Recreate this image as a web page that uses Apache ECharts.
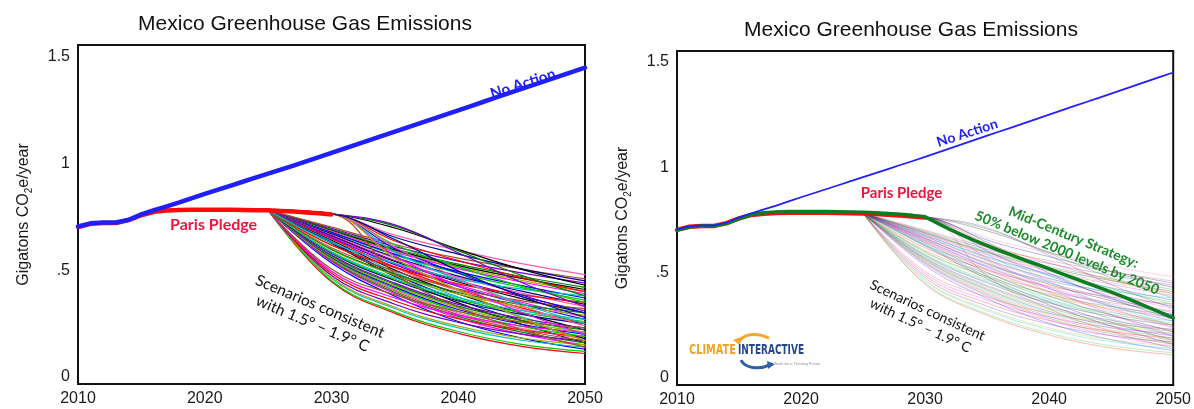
<!DOCTYPE html>
<html>
<head>
<meta charset="utf-8">
<script src="https://cdn.jsdelivr.net/npm/echarts@6/dist/echarts.min.js"></script>
<style>
  html, body { margin: 0; padding: 0; background: #ffffff; }
  #chart { width: 1194px; height: 409px; }
</style>
</head>
<body>
<div id="chart"></div>
<script>
// ---- Mexico GHG emissions, Gt CO2e per year ----
const years = [2010, 2011, 2012, 2013, 2014, 2015, 2016, 2017, 2018, 2019,
  2020, 2021, 2022, 2023, 2024, 2025, 2026, 2027, 2028, 2029,
  2030, 2031, 2032, 2033, 2034, 2035, 2036, 2037, 2038, 2039,
  2040, 2041, 2042, 2043, 2044, 2045, 2046, 2047, 2048, 2049, 2050];

// Business-as-usual path
const noAction = [0.705, 0.720, 0.724, 0.724, 0.737, 0.762, 0.782, 0.800, 0.818, 0.838,
  0.858, 0.877, 0.896, 0.915, 0.934, 0.953, 0.972, 0.991, 1.011, 1.030,
  1.050, 1.070, 1.090, 1.110, 1.130, 1.150, 1.170, 1.190, 1.210, 1.230,
  1.250, 1.270, 1.290, 1.310, 1.330, 1.350, 1.370, 1.390, 1.410, 1.430, 1.450];

// NDC pathway to 2030
const pledgeYears = [2010, 2011, 2012, 2013, 2014, 2015, 2016, 2017, 2018, 2019,
  2020, 2021, 2022, 2023, 2024, 2025, 2026, 2027, 2028, 2029, 2030];
const parisPledge = [0.703, 0.718, 0.722, 0.722, 0.735, 0.758, 0.774, 0.780, 0.783, 0.784,
  0.784, 0.784, 0.784, 0.783, 0.782, 0.781, 0.778, 0.775, 0.771, 0.767, 0.762];

// Mid-century strategy: 50% below 2000 levels by 2050
const midCentury = [0.702, 0.717, 0.721, 0.721, 0.733, 0.756, 0.775, 0.784, 0.788, 0.790,
  0.790, 0.790, 0.790, 0.789, 0.788, 0.787, 0.784, 0.781, 0.777, 0.772,
  0.765, 0.735, 0.705, 0.678, 0.652, 0.628, 0.605, 0.583, 0.561, 0.540,
  0.518, 0.496, 0.474, 0.452, 0.430, 0.408, 0.385, 0.360, 0.335, 0.310, 0.285];

// 1.5-1.9 C consistent scenarios, sampled every five years
const scenarioYears = [2025, 2030, 2035, 2040, 2045, 2050];
const scenarios = [
  [0.782, 0.446, 0.298, 0.204, 0.143, 0.11],
  [0.782, 0.451, 0.305, 0.213, 0.153, 0.12],
  [0.782, 0.534, 0.378, 0.260, 0.182, 0.13],
  [0.782, 0.461, 0.320, 0.230, 0.172, 0.14],
  [0.782, 0.542, 0.390, 0.276, 0.201, 0.15],
  [0.782, 0.466, 0.327, 0.238, 0.182, 0.15],
  [0.782, 0.627, 0.471, 0.347, 0.247, 0.16],
  [0.782, 0.546, 0.396, 0.284, 0.210, 0.16],
  [0.782, 0.476, 0.341, 0.256, 0.201, 0.17],
  [0.782, 0.549, 0.403, 0.292, 0.219, 0.17],
  [0.782, 0.553, 0.409, 0.300, 0.228, 0.18],
  [0.782, 0.632, 0.481, 0.361, 0.264, 0.18],
  [0.782, 0.486, 0.356, 0.273, 0.220, 0.19],
  [0.782, 0.557, 0.415, 0.308, 0.237, 0.19],
  [0.782, 0.561, 0.421, 0.316, 0.247, 0.20],
  [0.782, 0.637, 0.491, 0.375, 0.282, 0.20],
  [0.782, 0.496, 0.370, 0.290, 0.239, 0.21],
  [0.782, 0.565, 0.427, 0.324, 0.256, 0.21],
  [0.782, 0.642, 0.501, 0.389, 0.299, 0.22],
  [0.782, 0.568, 0.434, 0.332, 0.265, 0.22],
  [0.782, 0.572, 0.440, 0.340, 0.274, 0.23],
  [0.782, 0.506, 0.385, 0.307, 0.258, 0.23],
  [0.782, 0.647, 0.511, 0.403, 0.316, 0.24],
  [0.782, 0.580, 0.452, 0.356, 0.293, 0.25],
  [0.782, 0.649, 0.516, 0.410, 0.324, 0.25],
  [0.782, 0.584, 0.458, 0.364, 0.302, 0.26],
  [0.782, 0.654, 0.526, 0.424, 0.342, 0.27],
  [0.782, 0.587, 0.465, 0.372, 0.311, 0.27],
  [0.782, 0.657, 0.531, 0.431, 0.350, 0.28],
  [0.782, 0.595, 0.477, 0.388, 0.329, 0.29],
  [0.782, 0.662, 0.541, 0.445, 0.367, 0.30],
  [0.782, 0.599, 0.483, 0.396, 0.339, 0.30],
  [0.782, 0.664, 0.546, 0.452, 0.376, 0.31],
  [0.782, 0.606, 0.496, 0.412, 0.357, 0.32],
  [0.782, 0.669, 0.556, 0.466, 0.393, 0.33],
  [0.782, 0.672, 0.561, 0.473, 0.402, 0.34],
  [0.782, 0.618, 0.514, 0.436, 0.385, 0.35],
  [0.782, 0.677, 0.571, 0.487, 0.419, 0.36],
  [0.782, 0.679, 0.576, 0.494, 0.428, 0.37],
  [0.782, 0.629, 0.533, 0.460, 0.412, 0.38],
  [0.782, 0.684, 0.586, 0.508, 0.445, 0.39],
  [0.782, 0.687, 0.591, 0.515, 0.453, 0.40],
  [0.782, 0.689, 0.596, 0.522, 0.462, 0.41],
  [0.782, 0.692, 0.601, 0.529, 0.471, 0.42],
  [0.782, 0.697, 0.611, 0.543, 0.488, 0.44],
  [0.782, 0.702, 0.621, 0.557, 0.505, 0.46],
  [0.782, 0.765, 0.665, 0.594, 0.531, 0.48],
  [0.782, 0.765, 0.655, 0.576, 0.507, 0.45],
  [0.782, 0.765, 0.637, 0.546, 0.466, 0.40],
  [0.782, 0.765, 0.620, 0.516, 0.425, 0.35],
  [0.782, 0.765, 0.602, 0.486, 0.384, 0.30],
  [0.782, 0.765, 0.585, 0.456, 0.343, 0.25],
  [0.782, 0.765, 0.567, 0.426, 0.302, 0.20],
  [0.782, 0.765, 0.557, 0.408, 0.277, 0.17],
  [0.782, 0.765, 0.698, 0.598, 0.504, 0.43],
  [0.782, 0.765, 0.707, 0.592, 0.476, 0.38],
  [0.782, 0.765, 0.713, 0.582, 0.443, 0.33],
  [0.782, 0.765, 0.484, 0.328, 0.221, 0.14],
  [0.782, 0.765, 0.608, 0.461, 0.334, 0.24],
  [0.782, 0.765, 0.644, 0.498, 0.377, 0.28]
];

const xTickInterval = 10;
const yTickValues = [0, 0.5, 1, 1.5];
const yTickLabels = ['0', '.5', '1', '1.5'];

const titleText = 'Mexico Greenhouse Gas Emissions';
const yAxisTitle = '{a|Gigatons CO}{s|2}{a|e/year}';

// ---- styling ----
const scenarioPalette = ['#ff0000', '#00c800', '#0000ff', '#00c0c0', '#ff00ff', '#a8a800',
  '#000000', '#007f00', '#7000c0', '#a0522d', '#ff5fa8', '#000090'];
const BLUE = '#2020ff';
const RED = '#ff0a0a';
const GREEN = '#0b7d1f';
const SANS = '"Liberation Sans", Arial, sans-serif';
const LABEL_FONT = 'Lato, "Open Sans", sans-serif';
const LOGO_FONT = '"DejaVu Sans Condensed", "DejaVu Sans", sans-serif';

function pairs(xs, ys) { return xs.map((x, i) => [x, ys[i]]); }

function lineSeries(idx, xs, ys, color, width, extra) {
  return Object.assign({
    type: 'line', xAxisIndex: idx, yAxisIndex: idx,
    data: pairs(xs, ys), symbol: 'none', silent: true,
    lineStyle: { color: color, width: width, cap: 'round', join: 'round' }
  }, extra || {});
}

const series = [];
// left panel: coloured scenario bundle, pledge, no action
scenarios.forEach((s, i) => {
  series.push(lineSeries(0, scenarioYears, s, scenarioPalette[i % scenarioPalette.length], 1.2,
    { smooth: 0.4 }));
});
series.push(lineSeries(0, pledgeYears, parisPledge, RED, 4.5));
series.push(lineSeries(0, years, noAction, BLUE, 4.5));

// right panel: faded scenarios, pledge, mid-century strategy, no action
scenarios.forEach((s, i) => {
  const sr = lineSeries(1, scenarioYears, s, scenarioPalette[i % scenarioPalette.length], 1,
    { smooth: 0.4 });
  sr.lineStyle.opacity = 0.28;
  series.push(sr);
});
series.push(lineSeries(1, pledgeYears, parisPledge, RED, 4.5));
series.push(lineSeries(1, years, midCentury, GREEN, 3.5));
series.push(lineSeries(1, years, noAction, BLUE, 1.8));

function xAxis(idx) {
  return {
    type: 'value', gridIndex: idx, min: 2010, max: 2050, interval: xTickInterval,
    axisLine: { show: false }, axisTick: { show: false }, splitLine: { show: false },
    axisLabel: { color: '#1a1a1a', fontSize: 16, fontFamily: SANS, margin: 7,
      showMinLabel: true, showMaxLabel: true, formatter: v => String(v) }
  };
}
function yAxis(idx, max) {
  return {
    type: 'value', gridIndex: idx, min: -0.033, max: max,
    axisLine: { show: false }, axisTick: { show: false }, splitLine: { show: false },
    axisLabel: { color: '#1a1a1a', fontSize: 16, fontFamily: SANS, margin: 8,
      customValues: yTickValues,
      formatter: v => yTickLabels[yTickValues.indexOf(v)] },
    name: yAxisTitle, nameLocation: 'middle', nameGap: 44, nameRotate: 90,
    nameTextStyle: {
      color: '#1a1a1a', fontFamily: SANS,
      rich: {
        a: { fontSize: 16, fontFamily: SANS, color: '#1a1a1a', lineHeight: 20 },
        s: { fontSize: 10, fontFamily: SANS, color: '#1a1a1a', lineHeight: 20, verticalAlign: 'bottom', padding: [8, 0, 0, 0] }
      }
    }
  };
}

const chart = echarts.init(document.getElementById('chart'), null, { renderer: 'canvas' });

chart.setOption({
  animation: false,
  backgroundColor: '#ffffff',
  title: [
    { text: titleText, left: 300, top: 9, textAlign: 'center',
      textStyle: { fontSize: 21, fontWeight: 'normal', color: '#111', fontFamily: SANS } },
    { text: titleText, left: 906, top: 15, textAlign: 'center',
      textStyle: { fontSize: 21, fontWeight: 'normal', color: '#111', fontFamily: SANS } }
  ],
  grid: [
    { left: 78, top: 45, width: 507, height: 339, show: true, borderColor: '#111', borderWidth: 2, backgroundColor: 'transparent' },
    { left: 677, top: 51, width: 498, height: 334, show: true, borderColor: '#111', borderWidth: 2, backgroundColor: 'transparent' }
  ],
  xAxis: [xAxis(0), xAxis(1)],
  yAxis: [yAxis(0, 1.556), yAxis(1, 1.552)],
  series: series
});

// ---- annotations anchored in data space ----
const annotations = [
  { g: 0, at: [2045.1, 1.374], text: 'No Action', rot: 18, color: BLUE, size: 15, weight: 'bold' },
  { g: 0, at: [2020.7, 0.713], text: 'Paris Pledge', rot: 0, color: '#f0143c', size: 16, weight: 'bold' },
  { g: 0, at: [2028.8, 0.290], text: 'Scenarios consistent\nwith 1.5\u00b0 \u2013 1.9\u00b0 C', rot: -23, color: '#111', size: 15.5, weight: 'normal' },
  { g: 1, at: [2033.4, 1.163], text: 'No Action', rot: 18, color: BLUE, size: 14, weight: 'bold' },
  { g: 1, at: [2028.1, 0.878], text: 'Paris Pledge', rot: 0, color: '#f0143c', size: 15, weight: 'bold' },
  { g: 1, at: [2041.7, 0.631], text: 'Mid-Century Strategy:\n50% below 2000 levels by 2050', rot: -22.5, color: '#1a8a2a', size: 14, weight: 'bold' },
  { g: 1, at: [2029.9, 0.285], text: 'Scenarios consistent\nwith 1.5\u00b0 \u2013 1.9\u00b0 C', rot: -25, color: '#111', size: 14, weight: 'normal' }
];

const graphics = annotations.map(a => {
  const p = chart.convertToPixel({ gridIndex: a.g }, a.at);
  return {
    type: 'text', x: p[0], y: p[1], rotation: a.rot * Math.PI / 180, z: 100,
    style: {
      text: a.text, fill: a.color, font: a.weight + ' ' + a.size + 'px ' + LABEL_FONT,
      textAlign: 'center', textVerticalAlign: 'middle', lineHeight: a.size * 1.2
    }
  };
});

// ---- Climate Interactive logo, bottom-left of the right panel ----
const measureCtx = document.createElement('canvas').getContext('2d');
function fitText(text, font, targetWidth) {
  measureCtx.font = font;
  return targetWidth / measureCtx.measureText(text).width;
}
const logoFont = 'bold 14px ' + LOGO_FONT;
const logoAnchor = chart.convertToPixel({ gridIndex: 1 }, [2010, 0]);
graphics.push({
  type: 'group', x: logoAnchor[0] + 12, y: logoAnchor[1] - 35, z: 100,
  children: [
    // orange swoosh over the wordmark
    { type: 'bezierCurve', shape: { x1: 50, y1: -1, cpx1: 54, cpy1: -9, cpx2: 66, cpy2: -11, x2: 80, y2: -5 },
      style: { stroke: '#f4a62a', lineWidth: 3, fill: null } },
    { type: 'polygon', shape: { points: [[44, -3], [52, -6], [51, 2]] }, style: { fill: '#f4a62a' } },
    { type: 'text', x: 0, y: 0, scaleX: fitText('CLIMATE', logoFont, 47),
      style: { text: 'CLIMATE', font: logoFont, fill: '#f0a426', textVerticalAlign: 'top' } },
    { type: 'text', x: 49, y: 0, scaleX: fitText('INTERACTIVE', logoFont, 66),
      style: { text: 'INTERACTIVE', font: logoFont, fill: '#27468c', textVerticalAlign: 'top' } },
    // blue swoosh under the wordmark
    { type: 'bezierCurve', shape: { x1: 52, y1: 17, cpx1: 56, cpy1: 25, cpx2: 70, cpy2: 27, x2: 80, y2: 22 },
      style: { stroke: '#2f5fa6', lineWidth: 3, fill: null } },
    { type: 'polygon', shape: { points: [[78, 18], [86, 21], [79, 26]] }, style: { fill: '#2f5fa6' } },
    { type: 'text', x: 85, y: 19, style: { text: 'Tools for a Thriving Future', font: '4px sans-serif', fill: '#8a8a8a' } }
  ]
});

chart.setOption({ graphic: graphics });
</script>
</body>
</html>
